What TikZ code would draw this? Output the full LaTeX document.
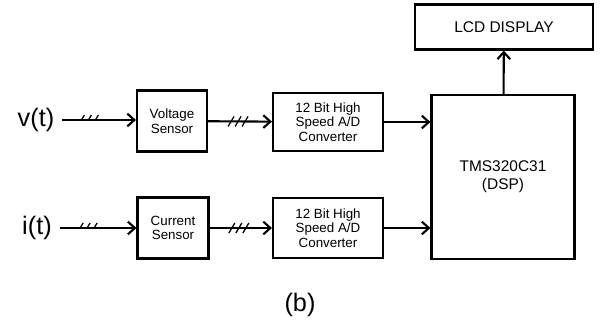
\documentclass[tikz,border=0pt]{standalone}
\usepackage{fontspec}
\setmainfont{Liberation Sans}
\usetikzlibrary{arrows.meta}

\tikzset{
  blk/.style={draw, line width=1.5pt, align=center, inner sep=0pt,
    font=\fontsize{9.5}{10.5}\selectfont},
  sig/.style={font=\fontsize{18}{18}\selectfont, inner sep=1pt},
  triple/.pic={\foreach \dx in {-7,0,7} \draw[-, line width=0.9pt] (\dx-3,5) -- (\dx+3,-5);}
}

\begin{document}
\begin{tikzpicture}[x=0.25mm, y=-0.25mm, line width=1.5pt,
    >={Straight Barb[length=5pt,width=9pt]}]
  \useasboundingbox (0,0) rectangle (600,325);
  % inputs
  \node[sig] (vt) at (36,120) {v(t)};
  \node[sig] (it) at (37,228) {i(t)};
  % blocks
  \node[blk, minimum width=70*0.25mm, minimum height=61*0.25mm] (vs) at (172,121) {Voltage\\Sensor};
  \node[blk, minimum width=71*0.25mm, minimum height=61*0.25mm] (cs) at (173,228) {Current\\Sensor};
  \node[blk, minimum width=110*0.25mm, minimum height=58*0.25mm] (cv1) at (328,122) {12 Bit High\\Speed A/D\\Converter};
  \node[blk, minimum width=110*0.25mm, minimum height=60*0.25mm] (cv2) at (328,228) {12 Bit High\\Speed A/D\\Converter};
  \node[blk, font=\fontsize{11}{13}\selectfont, minimum width=143*0.25mm, minimum height=164*0.25mm] (dsp) at (503,177) {TMS320C31\\(DSP)};
  \node[blk, font=\fontsize{11}{13}\selectfont, minimum width=178*0.25mm, minimum height=45*0.25mm] (lcd) at (504,27) {LCD DISPLAY};
  % connectors
  \draw[->, shorten <=4pt] (vt) -- pic[pos=0.4]{triple} (vt -| vs.west);
  \draw[->, shorten <=4pt] (it) -- pic[pos=0.4]{triple} (it -| cs.west);
  \draw[->] (vs) -- pic[pos=0.47]{triple} (cv1);
  \draw[->] (cs) -- pic[pos=0.47]{triple} (cv2);
  \draw[->] (cv1) -- (cv1 -| dsp.west);
  \draw[->] (cv2) -- (cv2 -| dsp.west);
  \draw[->] (dsp) -- (lcd);
  \node[sig] (cap) at (300,305) {(b)};
\end{tikzpicture}
\end{document}
